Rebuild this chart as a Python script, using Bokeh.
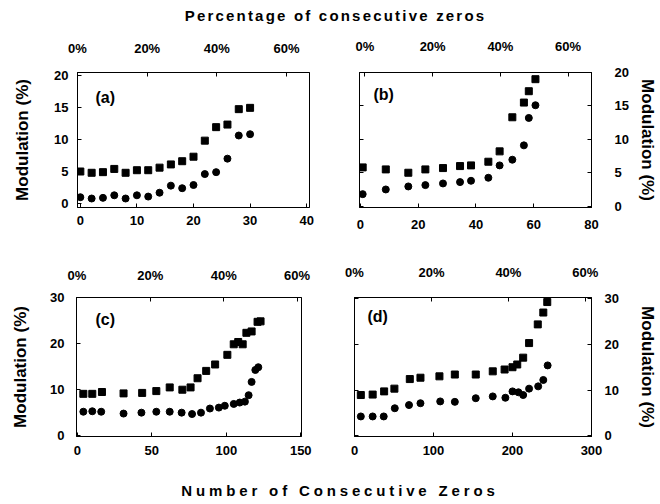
from bokeh.plotting import figure
from bokeh.models import Range1d, LinearAxis, FixedTicker, Label, Div
from bokeh.layouts import column, row
from bokeh.embed import file_html
from bokeh.resources import INLINE

# ---------------- data ----------------
TOP_TITLE = "Percentage of consecutive zeros"
BOTTOM_TITLE = "Number of Consecutive Zeros"
Y_TITLE = "Modulation (%)"
PCT_TICKS = [0, 20, 40, 60]
PCT_LABELS = ["0%", "20%", "40%", "60%"]

a_x = [0, 2, 4, 6, 8, 10, 12, 14, 16, 18, 20, 22, 24, 26, 28, 30]
a_sq = [5.0, 4.8, 4.9, 5.4, 4.8, 5.2, 5.2, 5.6, 6.1, 6.6, 7.3, 9.8, 11.9, 12.3, 14.7, 14.9]
a_ci = [1.0, 0.8, 0.9, 1.3, 0.8, 1.3, 1.1, 1.7, 2.8, 2.4, 2.9, 4.6, 4.9, 7.0, 10.6, 10.8]

b_x = [0.8, 8.8, 16.6, 22.5, 28.6, 34.5, 38.3, 44.3, 48.2, 52.6, 56.6, 58.3, 60.6]
b_sq = [5.8, 5.5, 5.0, 5.5, 5.7, 6.0, 6.1, 6.65, 8.2, 13.3, 15.5, 17.2, 19.0]
b_ci = [1.8, 2.5, 2.95, 3.15, 3.4, 3.6, 3.8, 4.25, 6.1, 6.95, 9.1, 13.2, 15.1]

c_x_sq = [4, 10, 16.5, 31, 43.5, 53, 62, 70.5, 76, 80.7, 86.5, 92.5, 100.7, 105, 108, 111, 113.5, 117, 121, 123]
c_sq = [9.0, 9.0, 9.4, 9.1, 9.2, 9.6, 10.4, 9.9, 10.4, 12.4, 14.0, 15.4, 17.5, 19.8, 20.3, 19.8, 22.3, 22.6, 24.7, 24.8]
c_x_ci = [4, 10, 16, 31, 43, 53, 62, 70, 77, 83, 89, 95, 99, 105, 109, 112.5, 115, 117, 119.5, 121.5]
c_ci = [5.1, 5.2, 5.1, 4.7, 4.9, 5.1, 5.1, 4.9, 4.6, 4.9, 5.8, 6.0, 6.4, 6.8, 7.1, 7.3, 8.7, 11.6, 14.2, 14.8]

d_x_sq = [8, 23, 37.5, 50.5, 70, 83.5, 107.5, 127, 153.5, 175, 190, 200, 206, 213.5, 221, 232, 239, 244]
d_sq = [8.9, 9.0, 9.7, 10.3, 12.4, 12.7, 13.0, 13.4, 13.4, 14.1, 14.5, 15.0, 15.6, 17.1, 20.3, 24.4, 27.0, 29.3]
d_x_ci = [8, 23, 37, 51, 69, 83.5, 108.5, 127, 153.5, 175, 191, 200, 207.5, 213.5, 221, 232.5, 239, 244.5]
d_ci = [4.2, 4.2, 4.2, 6.0, 6.7, 7.1, 7.5, 7.4, 8.2, 8.6, 8.3, 9.7, 9.5, 8.9, 10.3, 10.8, 12.2, 15.4]

a_xticks = [0, 10, 20, 30, 40]
a_yticks = [0, 5, 10, 15, 20]
b_xticks = [0, 20, 40, 60, 80]
b_yticks = [0, 5, 10, 15, 20]
c_xticks = [0, 50, 100, 150]
c_yticks = [0, 10, 20, 30]
d_xticks = [0, 100, 200, 300]
d_yticks = [0, 10, 20, 30]

FONT = "Liberation Sans"


def style_axis(ax, standoff):
    ax.major_tick_in = 4
    ax.major_tick_out = 0
    ax.minor_tick_in = 0
    ax.minor_tick_out = 0
    ax.axis_line_color = "black"
    ax.major_tick_line_color = "black"
    ax.major_label_text_font = FONT
    ax.major_label_text_font_style = "bold"
    ax.major_label_text_font_size = "13px"
    ax.major_label_text_color = "black"
    ax.major_label_standoff = standoff
    ax.axis_label_text_font = FONT
    ax.axis_label_text_font_style = "bold"
    ax.axis_label_text_font_size = "17px"
    ax.axis_label_text_color = "black"


def panel(cfg, xs_sq, ys_sq, xs_ci, ys_ci, xticks, yticks, tag):
    side = cfg["side"]
    p = figure(width=cfg["w"], height=cfg["h"], output_backend="svg", toolbar_location=None,
               x_range=Range1d(*cfg["xr"]), y_range=Range1d(*cfg["yr"]),
               x_axis_location="below", y_axis_location=side,
               min_border_left=cfg["bl"], min_border_right=cfg["br"],
               min_border_top=cfg["bt"], min_border_bottom=cfg["bb"])
    p.grid.visible = False
    p.outline_line_color = "black"
    p.outline_line_width = 1
    p.background_fill_color = "white"
    p.border_fill_color = "white"

    xa = p.below[0]
    xa.ticker = FixedTicker(ticks=xticks)
    style_axis(xa, cfg["xsd"])

    ya = p.left[0] if side == "left" else p.right[0]
    ya.ticker = FixedTicker(ticks=yticks)
    style_axis(ya, cfg["ysd"])
    ya.axis_label = Y_TITLE
    ya.axis_label_standoff = cfg["ylsd"]

    if side == "right":
        la = LinearAxis(ticker=FixedTicker(ticks=yticks),
                        major_label_overrides={t: "" for t in yticks})
        style_axis(la, 2)
        p.add_layout(la, "left")

    p.extra_x_ranges = {"pct": Range1d(*cfg["pr"])}
    pa = LinearAxis(x_range_name="pct", ticker=FixedTicker(ticks=PCT_TICKS),
                    major_label_overrides=dict(zip(PCT_TICKS, PCT_LABELS)))
    style_axis(pa, cfg["psd"])
    p.add_layout(pa, "above")

    p.scatter(xs_sq, ys_sq, marker="square", size=7, color="black")
    p.scatter(xs_ci, ys_ci, marker="circle", size=7, color="black")

    fh = cfg["h"] - cfg["bt"] - cfg["bb"]
    p.add_layout(Label(x=cfg["lx"], y=fh - cfg["ly"], x_units="screen", y_units="screen",
                       text=tag, text_font=FONT, text_font_style="bold",
                       text_font_size="16px", text_baseline="middle", text_color="black"))
    return p


cfg_a = dict(w=320, h=213, bl=69, br=19, bt=38, bb=38, side="left",
             xr=(-0.5, 40.5), yr=(-0.6, 20.4), pr=(0, 66.6),
             xsd=8, ysd=9, ylsd=19, psd=17, lx=18, ly=27)
cfg_b = dict(w=331, h=213, bl=31, br=67, bt=40, bb=37, side="right",
             xr=(-0.3, 80.0), yr=(-0.2, 20.0), pr=(-1.6, 66.9),
             xsd=12, ysd=23, ylsd=6, psd=19, lx=14, ly=23)
cfg_c = dict(w=320, h=230, bl=66, br=27, bt=52, bb=39, side="left",
             xr=(-0.6, 150.5), yr=(-0.3, 30.0), pr=(-0.1, 61.2),
             xsd=9, ysd=12, ylsd=17, psd=15, lx=19, ly=22)
cfg_d = dict(w=331, h=230, bl=26, br=66, bt=50, bb=38, side="right",
             xr=(0, 300), yr=(-0.2, 30.3), pr=(0, 61.6),
             xsd=9, ysd=13, ylsd=16, psd=18, lx=13, ly=22)

pa_ = panel(cfg_a, a_x, a_sq, a_x, a_ci, a_xticks, a_yticks, "(a)")
pb_ = panel(cfg_b, b_x, b_sq, b_x, b_ci, b_xticks, b_yticks, "(b)")
pc_ = panel(cfg_c, c_x_sq, c_sq, c_x_ci, c_ci, c_xticks, c_yticks, "(c)")
pd_ = panel(cfg_d, d_x_sq, d_sq, d_x_ci, d_ci, d_xticks, d_yticks, "(d)")

top = Div(text=('<div style="width:644px;box-sizing:border-box;padding-left:11px;text-align:center;'
                'font-family:\'Liberation Sans\';font-weight:bold;font-size:15px;line-height:15px;'
                'letter-spacing:2.2px;color:black;">' + TOP_TITLE + '</div>'),
          width=644, height=24, margin=0)
bottom = Div(text=('<div style="width:644px;box-sizing:border-box;padding-left:20px;padding-top:8px;'
                   'text-align:center;font-family:\'Liberation Sans\';font-weight:bold;font-size:15px;'
                   'line-height:16px;letter-spacing:3.85px;color:black;">' + BOTTOM_TITLE + '</div>'),
             width=644, height=24, margin=0)

layout = column(top, row(pa_, pb_, spacing=0), row(pc_, pd_, spacing=0), bottom,
                spacing=0, margin=(8, 0, 0, 8))

open("out.html", "w").write(file_html(layout, INLINE))
